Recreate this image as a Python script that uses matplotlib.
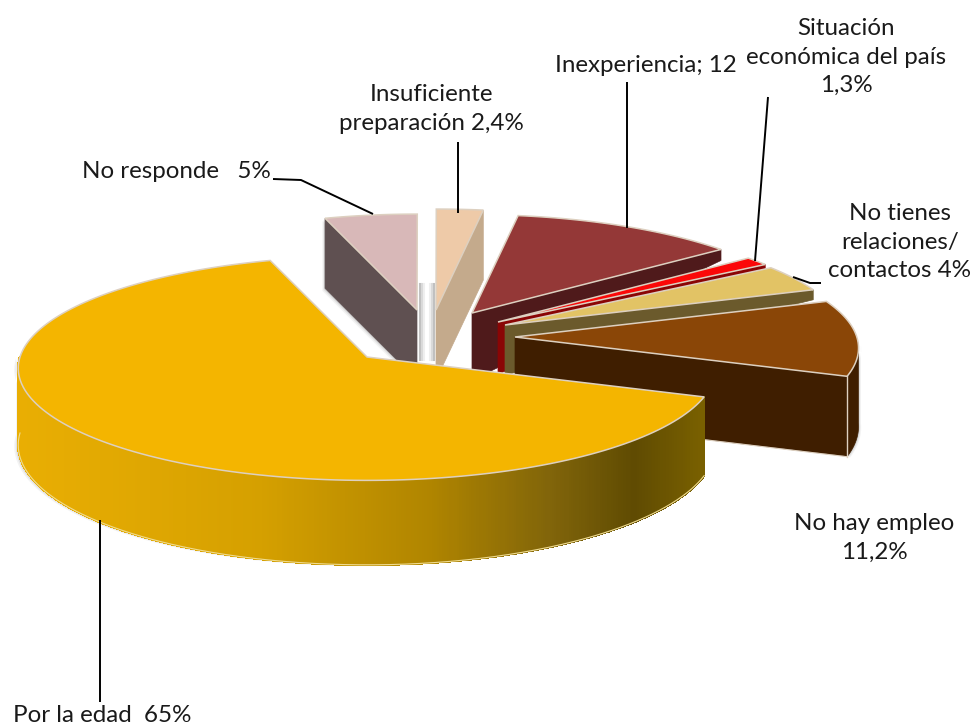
import matplotlib
matplotlib.use("Agg")
import matplotlib.pyplot as plt
from matplotlib.colors import LinearSegmentedColormap
from matplotlib.patches import Polygon
import numpy as np

plt.rcParams.update({"font.family": ["Lato", "DejaVu Sans"]})

# order: counter-clockwise starting at the front-right cut
names = ["No hay empleo", "No tienes", "Situacion", "Inexperiencia", "Insuficiente", "No responde", "Por la edad"]
values = [11.2, 4, 1.3, 12, 2.4, 5, 65]

top_colors = ["#8a4607", "#e2c365", "#fb0808", "#943837", "#eecaa8", "#d8b8b8", "#f4b500"]
side_colors = ["#3f1e00", "#6b5a2c", "#8a0505", "#4f1a1b", "#c4aa8c", "#5f5051", "#f4b500"]
apex_x = [515, 505, 498, 472, 436, 417, 367]
apex_y = [337, 325, 322, 313, 310, 310, 357]
radius = [0.985, 0.975, 0.98, 0.975, 1.0, 0.95, 1.0]
outer_depth = [80, 10, 4, 11, 70, 70, 76]
apex_depth = [80, 50, 52, 67, 70, 70, 76]
cut_edge = [0, 0, 0, 0, 0, 1, None]  # which radial cut is seen from the viewer

R = 347
K = 0.32
P = 0.10
START = -20.3

line_color = "#ddd0c0"


def project(cx, cy, theta, r=1.0):
    X = np.cos(np.radians(theta))
    Y = np.sin(np.radians(theta))
    s = 1 / (1 + P * Y)
    return cx + r * R * X * s, cy - r * R * K * Y * s, s


def shadow(ax, pts, dx=-3, dy=3):
    # soft grey edge under a shape
    for grow, a in zip([4, 2.5, 1.2], [0.07, 0.10, 0.16]):
        p = np.array(pts) + [dx * grow / 3, dy * grow / 3]
        ax.add_patch(Polygon(p, closed=True, fc="#555555", ec="none", alpha=a, zorder=1))


fig = plt.figure(figsize=(9.76, 7.27), dpi=100)
ax = fig.add_axes([0, 0, 1, 1])
ax.set_xlim(0, 976)
ax.set_ylim(727, 0)
ax.axis("off")

edges = START + np.concatenate([[0], np.cumsum(values)]) * 360 / sum(values)

draw_order = [5, 4, 3, 2, 1, 0, 6]
for z, i in enumerate(draw_order):
    cx, cy = apex_x[i], apex_y[i]
    a0, a1 = edges[i], edges[i + 1]
    th = np.linspace(a0, a1, 160)
    xs, ys, ss = project(cx, cy, th, radius[i])
    zz = 2 + z * 2

    if i == 6:
        # long outer wall, shaded left to right
        wall = np.linspace(180, a1, 420)
        wx, wy, ws = project(cx, cy, wall)
        wb = wy + outer_depth[i] * ws
        shadow(ax, list(zip(wx, wb)) + list(zip(wx[::-1], wy[::-1])), dx=-3, dy=1)
        cmap = LinearSegmentedColormap.from_list(
            "wall", [(0, "#e9ae03"), (0.18, "#dfa702"), (0.35, "#d5a000"), (0.6, "#b08500"),
                     (0.78, "#80640a"), (0.9, "#5f4b02"), (1, "#796000")]
        )
        for j in range(len(wall) - 1):
            q = [(wx[j], wy[j]), (wx[j + 1], wy[j + 1]), (wx[j + 1], wb[j + 1]), (wx[j], wb[j])]
            c = cmap((wx[j] - wx[0]) / (wx[-1] - wx[0]))
            ax.add_patch(Polygon(q, closed=True, fc=c, ec=c, lw=1.0, antialiased=False, zorder=zz))
        ax.plot(wx, wb, color="#f0dc90", lw=0.8, zorder=zz)
    else:
        e = a1 if cut_edge[i] else a0
        ex, ey, es = project(cx, cy, e, radius[i])
        side = [(cx, cy), (ex, ey), (ex, ey + outer_depth[i]), (cx, cy + apex_depth[i])]
        if i == 5:
            shadow(ax, side, dx=-2, dy=2)
            for off, a in zip([3, 5, 7], [0.6, 0.35, 0.15]):
                ax.plot([cx + off, cx + off], [cy - 26, cy + apex_depth[i] - 20], color="#999999", lw=1.5, alpha=a, zorder=1)
        if i == 4:
            for off, a in zip([2, 4, 6], [0.6, 0.35, 0.15]):
                ax.plot([cx - off, cx - off], [cy - 26, cy + apex_depth[i] - 20], color="#999999", lw=1.5, alpha=a, zorder=1)
        ax.add_patch(Polygon(side, closed=True, fc=side_colors[i], ec=side_colors[i], lw=0.5, zorder=zz))
        if i == 0:
            wall = np.linspace(a0, -4, 40)
            wx, wy, ws = project(cx, cy, wall, radius[i])
            wb = wy + outer_depth[i] * ws * 0.97
            pts = list(zip(wx, wy)) + list(zip(wx[::-1], wb[::-1]))
            shadow(ax, pts, dx=2, dy=1)
            ax.add_patch(Polygon(pts, closed=True, fc=side_colors[i], ec=side_colors[i], lw=0.5, zorder=zz))
            ax.plot([ex, ex], [ey, wb[0]], color=line_color, lw=1, zorder=zz)
            ax.plot([cx, ex], [cy + apex_depth[i], wb[0]], color=line_color, lw=0.8, zorder=zz)

    top = [(cx, cy)] + list(zip(xs, ys))
    ax.add_patch(Polygon(top, closed=True, fc=top_colors[i], ec=line_color, lw=1.1, zorder=zz + 1))

# labels
label_texts = ["Por la edad  65%", "No responde   5%", "Insuficiente\npreparación 2,4%", "Inexperiencia; 12",
               "Situación\neconómica del país\n1,3%", "No tienes\nrelaciones/\ncontactos 4%", "No hay empleo\n11,2%"]
label_x = [102, 176, 431, 646, 846, 900, 874]
label_y = [716, 171, 109, 65, 57, 242, 538]
for t, x, y in zip(label_texts, label_x, label_y):
    ax.text(x, y, t, ha="center", va="center", fontsize=17.4, color="#1a1a1a", linespacing=1.42, zorder=30)

# leader lines
leaders = [
    ([100, 100], [520, 702]),
    ([273, 301, 373], [179, 180, 214]),
    ([458, 458], [142, 213]),
    ([627, 627], [82, 228]),
    ([768, 755], [97, 261]),
    ([793, 810, 821], [277, 283, 283]),
]
for lx, ly in leaders:
    ax.plot(lx, ly, color="black", lw=1.4, zorder=25, solid_capstyle="butt")

fig.savefig("out.png", dpi=100, facecolor="white")
